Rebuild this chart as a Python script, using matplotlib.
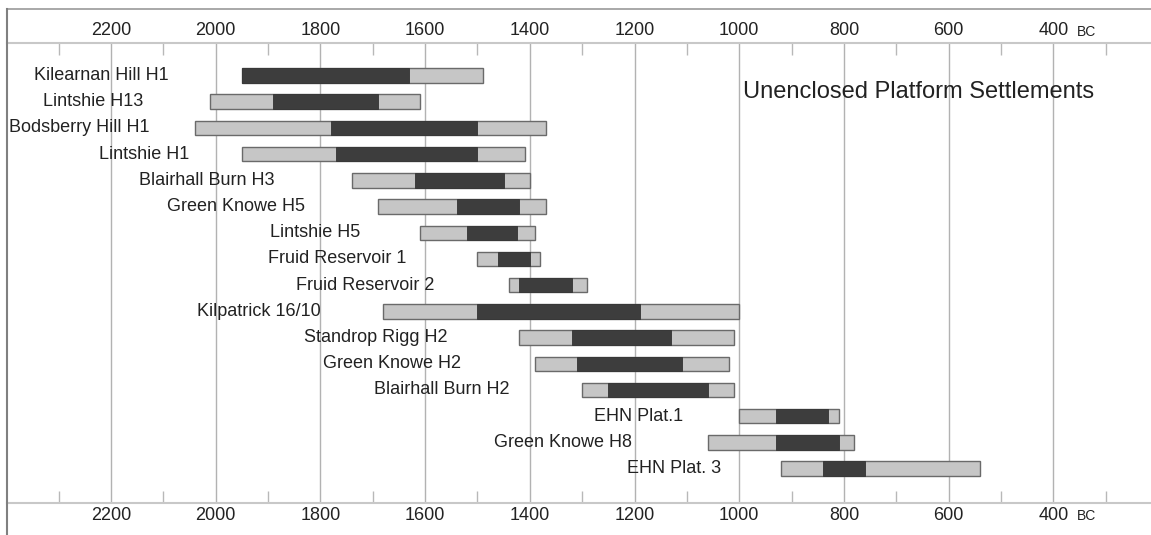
import matplotlib.pyplot as plt
from matplotlib.lines import Line2D
from matplotlib.ticker import FixedLocator, FuncFormatter

plt.rcParams["font.family"] = ["Liberation Sans", "DejaVu Sans"]

# years BC: full (light) range and darker core range
sites = [
    "Kilearnan Hill H1", "Lintshie H13", "Bodsberry Hill H1", "Lintshie H1",
    "Blairhall Burn H3", "Green Knowe H5", "Lintshie H5", "Fruid Reservoir 1",
    "Fruid Reservoir 2", "Kilpatrick 16/10", "Standrop Rigg H2", "Green Knowe H2",
    "Blairhall Burn H2", "EHN Plat.1", "Green Knowe H8", "EHN Plat. 3",
]
outer_start = [1950, 2010, 2040, 1950, 1740, 1690, 1610, 1500, 1440, 1680, 1420, 1390, 1300, 1000, 1060, 920]
core_start = [1950, 1890, 1780, 1770, 1620, 1540, 1520, 1460, 1420, 1500, 1320, 1310, 1250, 930, 930, 840]
core_end = [1630, 1690, 1500, 1500, 1450, 1420, 1425, 1400, 1320, 1190, 1130, 1110, 1060, 830, 810, 760]
outer_end = [1490, 1610, 1370, 1410, 1400, 1370, 1390, 1380, 1290, 1000, 1010, 1020, 1010, 810, 780, 540]

major_years = [2200, 2000, 1800, 1600, 1400, 1200, 1000, 800, 600, 400]
minor_years = [2300, 2100, 1900, 1700, 1500, 1300, 1100, 900, 700, 500, 300]

# hand-placed label gaps (pixels left of bar start)
label_gap = [73, 67, 45, 53, 77, 73, 60, 71, 74, 62, 72, 74, 73, 56, 76, 60]

W, H = 1151, 535
fig = plt.figure(figsize=(W / 100, H / 100), dpi=100)
ax = fig.add_axes([7.3 / W, (H - 502.7) / H, (W - 7.3) / W, 460 / H])

ax.set_xlim(2398.1, 213.4)
ax.set_ylim(16.305, -1.252)

LIGHT, DARK, EDGE = "#c6c6c6", "#3d3d3d", "#6a6a6a"
rows = range(len(sites))
ax.barh(rows, [s - e for s, e in zip(outer_start, outer_end)], left=outer_end,
        height=0.55, color=LIGHT, edgecolor=EDGE, linewidth=1.0, zorder=3)
ax.barh(rows, [s - e for s, e in zip(core_start, core_end)], left=core_end,
        height=0.55, color=DARK, edgecolor="#333333", linewidth=0.6, zorder=4)

for i, name in enumerate(sites):
    ax.annotate(name, xy=(outer_start[i], i), xytext=(-label_gap[i], 0),
                textcoords="offset pixels", ha="right", va="center",
                fontsize=13, color="#222222", zorder=5)

ax.text(992, 0.62, "Unenclosed Platform Settlements", ha="left", va="center",
        fontsize=17, color="#222222", zorder=5)

for yr in major_years:
    ax.axvline(yr, color="#b2b2b2", linewidth=1.0, zorder=1)

for side in ["left", "right"]:
    ax.spines[side].set_visible(False)
for side in ["top", "bottom"]:
    ax.spines[side].set_color("#c8c8c8")
    ax.spines[side].set_linewidth(1.5)

ax.xaxis.set_major_locator(FixedLocator(major_years))
ax.xaxis.set_minor_locator(FixedLocator(minor_years))
ax.xaxis.set_major_formatter(FuncFormatter(lambda v, p: f"{int(v)}"))
ax.tick_params(axis="x", which="major", top=True, labeltop=True, bottom=True,
               labelbottom=True, length=0, pad=3, labelsize=13, labelcolor="#222222")
ax.tick_params(axis="x", which="minor", top=True, bottom=True, direction="in",
               length=8.5, width=1.0, color="#b8b8b8")
ax.set_yticks([])

# small-caps "BC" after the 400 labels
for yy, va in [(1, "bottom"), (0, "top")]:
    ax.annotate("BC", xy=(400, yy), xycoords=("data", "axes fraction"),
                xytext=(24, 4.2 if yy else -6.3), textcoords="offset pixels",
                ha="left", va=va, fontsize=10, color="#222222")

# outer frame lines
fig.add_artist(Line2D([7.3 / W, 1], [(H - 9.3) / H] * 2, color="#999999", linewidth=1.2))
fig.add_artist(Line2D([7.3 / W] * 2, [0, (H - 9.3) / H], color="#808080", linewidth=1.5))

fig.savefig("out.png", dpi=100, facecolor="white")
